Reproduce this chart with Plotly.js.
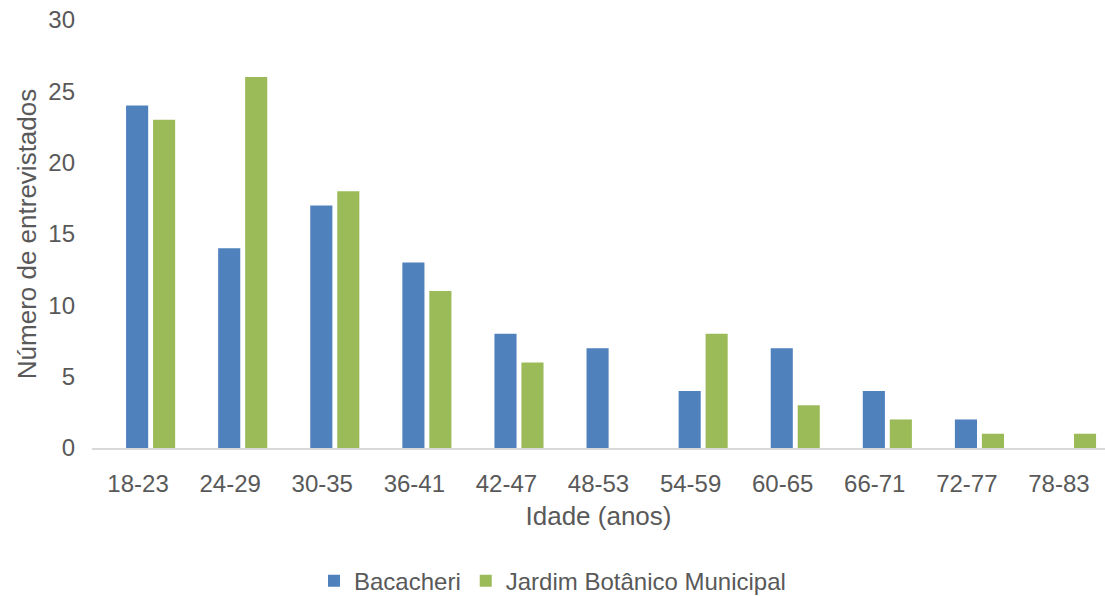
<!DOCTYPE html>
<html><head><meta charset="utf-8">
<script src="https://cdn.plot.ly/plotly-3.0.1.min.js"></script>
<style>html,body{margin:0;padding:0;background:#fff}#c{width:1105px;height:596px}</style>
</head><body><div id="c"></div>
<script>
const categories = ["18-23","24-29","30-35","36-41","42-47","48-53","54-59","60-65","66-71","72-77","78-83"];
const bacacheri = [24,14,17,13,8,7,4,7,4,2,0];
const jardim = [23,26,18,11,6,0,8,3,2,1,1];
const seriesNames = ["Bacacheri","Jardim Botânico Municipal"];
const font = {family:"Liberation Sans, Arial, sans-serif", color:"#595959"};
const data = [
 {type:"bar", x:categories, y:bacacheri, name:seriesNames[0], marker:{color:"#4F81BD"}, width:0.24, offset:-0.13},
 {type:"bar", x:categories, y:jardim, name:seriesNames[1], marker:{color:"#9BBB59"}, width:0.24, offset:0.163}
];
const layout = {
 width:1105, height:596,
 margin:{l:92, r:0, t:20, b:148},
 paper_bgcolor:"#fff", plot_bgcolor:"#fff",
 font:font,
 barmode:"group",
 xaxis:{type:"category", tickfont:{size:24, color:"#595959"}, showline:true, linecolor:"#D9D9D9", linewidth:1.5,
   ticks:"", showgrid:false, automargin:false, ticklabelstandoff:14,
   title:{text:"Idade (anos)", font:{size:26, color:"#595959"}, standoff:10}},
 yaxis:{range:[0,30], dtick:5, showgrid:false, zeroline:false, showline:false, ticks:"",
   tickfont:{size:24, color:"#595959"}, automargin:false, ticklabelstandoff:16,
   title:{text:"Número de entrevistados", font:{size:26, color:"#595959"}, standoff:4}},
 legend:{orientation:"h", x:0.5, xanchor:"center", xref:"container", y:0.025, yanchor:"middle", yref:"container", font:{size:24, color:"#595959"}},
 showlegend:true
};
Plotly.newPlot("c", data, layout, {displayModeBar:false, staticPlot:true});
</script></body></html>
